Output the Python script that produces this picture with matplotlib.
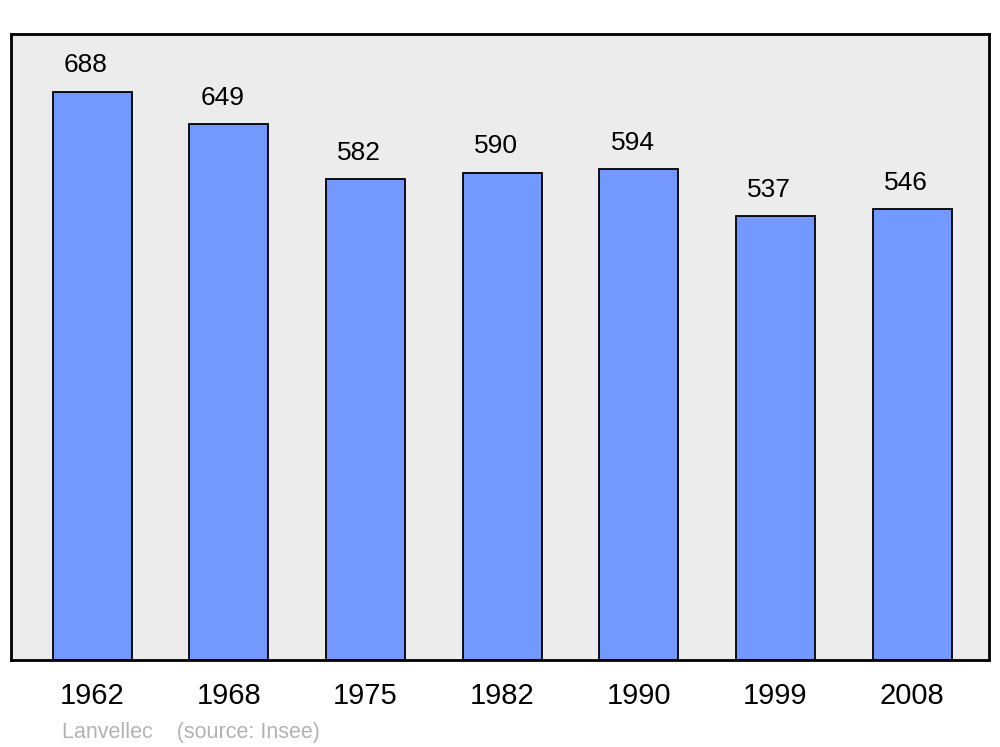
import numpy as np
import matplotlib.pyplot as plt

plt.rcParams['font.family'] = ['Liberation Sans', 'DejaVu Sans']

years = ["1962", "1968", "1975", "1982", "1990", "1999", "2008"]
population = [688, 649, 582, 590, 594, 537, 546]

fig = plt.figure(figsize=(10, 7.47), dpi=100)
ax = fig.add_axes([0.011, 0.1165, 0.978, 0.838])
ax.set_facecolor("#ececec")

x = np.arange(len(years))
ax.bar(x, population, width=0.578, color="#7399ff", edgecolor="black", linewidth=1.3, zorder=2)

# labels sit a little left of the bar centre in the original
for xi, v in zip(x, population):
    ax.annotate(str(v), (xi, v), xytext=(-4.5, 19), textcoords="offset points",
                ha="center", va="center", fontsize=19)

ax.set_xlim(-0.593, 6.563)
ax.set_ylim(0, 758)
ax.set_yticks([])
ax.set_xticks(x)
ax.set_xticklabels(years, fontsize=21)
ax.tick_params(axis="x", length=0, pad=16)

for s in ax.spines.values():
    s.set_linewidth(2)

fig.text(0.062, 0.02, "Lanvellec    (source: Insee)", fontsize=15.5, color="#b3b3b3",
         ha="left", va="center")

fig.savefig("out.png", dpi=100)
